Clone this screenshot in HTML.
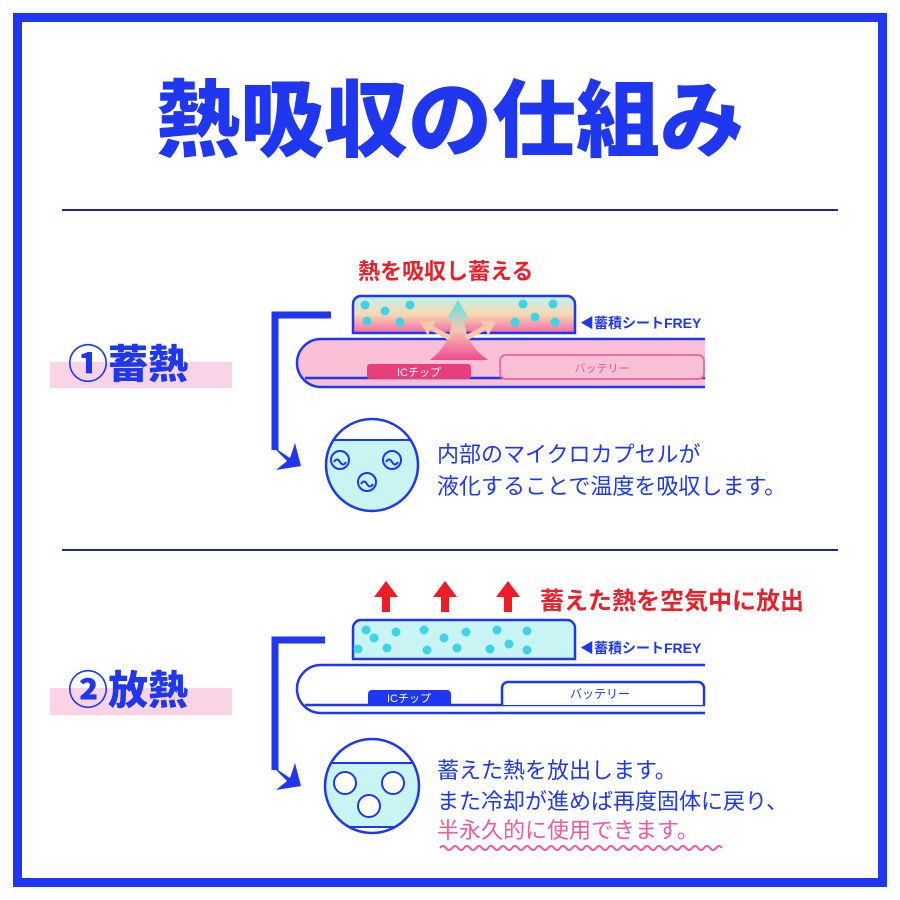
<!DOCTYPE html>
<html><head><meta charset="utf-8">
<style>
html,body{margin:0;padding:0;background:#fff;}
svg{display:block;}
text{font-family:"Liberation Sans","Noto Sans CJK JP",sans-serif;}
</style></head><body>
<svg width="900" height="900" viewBox="0 0 900 900" xmlns="http://www.w3.org/2000/svg">
<defs>
<linearGradient id="g1" x1="0" y1="0" x2="0" y2="1">
<stop offset="0" stop-color="#bdf3ee"/><stop offset="0.5" stop-color="#f9d8b0"/><stop offset="1" stop-color="#f46aa6"/>
</linearGradient>
<linearGradient id="g2" x1="0" y1="0" x2="0" y2="1">
<stop offset="0" stop-color="#53e6e6"/><stop offset="0.5" stop-color="#f4c8b0"/><stop offset="1" stop-color="#f04a90"/>
</linearGradient>
<clipPath id="c1"><circle cx="372" cy="465" r="46"/></clipPath>
<clipPath id="c2"><circle cx="372" cy="786" r="47"/></clipPath>
</defs>
<rect x="17.5" y="17.5" width="865" height="865" fill="none" stroke="#1f37f0" stroke-width="9"/>
<text x="450" y="150" font-size="84" font-weight="900" fill="#1f37f0" text-anchor="middle" font-family="Noto Sans CJK JP,sans-serif">熱吸収の仕組み</text>
<line x1="62" y1="210" x2="838" y2="210" stroke="#1a2a9a" stroke-width="2"/>
<line x1="62" y1="550" x2="838" y2="550" stroke="#1a2a9a" stroke-width="2"/>

<!-- section 1 -->
<rect x="50" y="362" width="182" height="26" fill="#fbd3e7"/>
<text x="68" y="378" font-size="40" font-weight="900" fill="#1f37f0" font-family="Noto Sans CJK JP,sans-serif">①蓄熱</text>
<text x="358" y="279" font-size="22" font-weight="700" fill="#e8202a" font-family="Noto Sans CJK JP,sans-serif">熱を吸収し蓄える</text>
<path d="M353 333 V304 a8 8 0 0 1 8 -8 H567 a8 8 0 0 1 8 8 V333 Z" fill="url(#g1)" stroke="#1f37f0" stroke-width="2.5"/>
<g fill="#3ed3e6">
<circle cx="365" cy="305" r="4.5"/><circle cx="385" cy="311" r="4.5"/><circle cx="410" cy="305" r="4.5"/><circle cx="367" cy="321" r="4.5"/><circle cx="400" cy="322" r="4.5"/>
<circle cx="523" cy="304" r="4.5"/><circle cx="553" cy="304" r="4.5"/><circle cx="535" cy="317" r="4.5"/><circle cx="515" cy="322" r="4.5"/><circle cx="555" cy="322" r="4.5"/>
</g>
<path d="M297 363 a24 24 0 0 1 24 -24 H705 V387 H321 a24 24 0 0 1 -24 -24 Z" fill="#f9c0d6"/>
<path d="M705 339 H321 a24 24 0 0 0 0 48 H705" fill="none" stroke="#1f37f0" stroke-width="2.5"/>
<line x1="305" y1="378" x2="705" y2="378" stroke="#1f37f0" stroke-width="2.5"/>
<path d="M430 360 Q450 345 452 320 L446 320 L458 300 L470 320 L464 320 Q466 345 488 360 Z" fill="url(#g2)"/>
<path d="M448 340 L430 330 L428 336 L420 322 L436 320 L433 326 L452 336 Z" fill="#f6c8a8"/>
<path d="M468 340 L486 330 L488 336 L496 322 L480 320 L483 326 L464 336 Z" fill="#f6c8a8"/>
<rect x="367" y="364" width="104" height="15" rx="3" fill="#e83e7c"/>
<text x="419" y="376" font-size="11" fill="#fff" text-anchor="middle" font-family="Noto Sans CJK JP,sans-serif">ICチップ</text>
<rect x="500" y="355" width="204" height="24" rx="6" fill="#f9c0d6" stroke="#e870a8" stroke-width="2"/>
<text x="602" y="372" font-size="11" fill="#e05a98" text-anchor="middle" font-family="Noto Sans CJK JP,sans-serif">バッテリー</text>
<text x="580" y="328" font-size="14" font-weight="700" fill="#1f37f0" font-family="Noto Sans CJK JP,sans-serif">◀蓄積シートFREY</text>
<path d="M331 315 H275 V450" fill="none" stroke="#1f37f0" stroke-width="7"/>
<path d="M272 446 L290 458 L295 443 L301 466 L276 470 L287 461 Z" fill="#1f37f0"/>
<g clip-path="url(#c1)">
<rect x="320" y="440" width="110" height="80" fill="#c8f4f4"/>
<line x1="320" y1="440" x2="430" y2="440" stroke="#1f37f0" stroke-width="2"/>
</g>
<circle cx="372" cy="465" r="46" fill="none" stroke="#1f37f0" stroke-width="2.5"/>
<g fill="none" stroke="#1f37f0" stroke-width="2">
<circle cx="340" cy="460" r="9"/><circle cx="392" cy="460" r="9"/><circle cx="367" cy="482" r="9"/>
<path d="M334 462 q3 -5 6 0 q3 5 6 0"/><path d="M386 462 q3 -5 6 0 q3 5 6 0"/><path d="M361 484 q3 -5 6 0 q3 5 6 0"/>
</g>
<text x="437" y="462" font-size="22" fill="#1f37f0" font-family="Noto Sans CJK JP,sans-serif">内部のマイクロカプセルが</text>
<text x="437" y="494" font-size="22" fill="#1f37f0" font-family="Noto Sans CJK JP,sans-serif">液化することで温度を吸収します。</text>

<!-- section 2 -->
<rect x="50" y="688" width="182" height="27" fill="#fbd3e7"/>
<text x="68" y="704" font-size="40" font-weight="900" fill="#1f37f0" font-family="Noto Sans CJK JP,sans-serif">②放熱</text>
<g fill="#ee1c24">
<path d="M374 597 L386 581 L398 597 L390 597 L390 612 L382 612 L382 597 Z"/>
<path d="M433 597 L445 581 L457 597 L449 597 L449 612 L441 612 L441 597 Z"/>
<path d="M496 597 L508 581 L520 597 L512 597 L512 612 L504 612 L504 597 Z"/>
</g>
<text x="540" y="609" font-size="24" font-weight="700" fill="#e8202a" font-family="Noto Sans CJK JP,sans-serif">蓄えた熱を空気中に放出</text>
<path d="M353 659 V628 a8 8 0 0 1 8 -8 H567 a8 8 0 0 1 8 8 V659 Z" fill="#c8f4f4" stroke="#1f37f0" stroke-width="2.5"/>
<g fill="#3ed3e6">
<circle cx="366" cy="630" r="4.5"/><circle cx="374" cy="638" r="4.5"/><circle cx="396" cy="632" r="4.5"/><circle cx="358" cy="649" r="4.5"/><circle cx="387" cy="648" r="4.5"/>
<circle cx="424" cy="630" r="4.5"/><circle cx="444" cy="638" r="4.5"/><circle cx="466" cy="632" r="4.5"/><circle cx="427" cy="650" r="4.5"/><circle cx="457" cy="648" r="4.5"/>
<circle cx="497" cy="630" r="4.5"/><circle cx="527" cy="631" r="4.5"/><circle cx="509" cy="644" r="4.5"/><circle cx="490" cy="649" r="4.5"/><circle cx="527" cy="650" r="4.5"/>
</g>
<path d="M705 665 H321 a24 24 0 0 0 0 48 H705" fill="none" stroke="#1f37f0" stroke-width="2.5"/>
<line x1="305" y1="705" x2="705" y2="705" stroke="#1f37f0" stroke-width="2.5"/>
<path d="M368 705 V694 a4 4 0 0 1 4 -4 H447 a4 4 0 0 1 4 4 V705 Z" fill="#1f37f0"/>
<text x="409" y="702" font-size="11" fill="#fff" text-anchor="middle" font-family="Noto Sans CJK JP,sans-serif">ICチップ</text>
<path d="M502 705 V688 a6 6 0 0 1 6 -6 H698 a6 6 0 0 1 6 6 V705" fill="#fff" stroke="#1f37f0" stroke-width="2.5"/>
<text x="600" y="698" font-size="12" fill="#1f37f0" text-anchor="middle" font-family="Noto Sans CJK JP,sans-serif">バッテリー</text>
<text x="580" y="653" font-size="14" font-weight="700" fill="#1f37f0" font-family="Noto Sans CJK JP,sans-serif">◀蓄積シートFREY</text>
<path d="M325 640 H275 V770" fill="none" stroke="#1f37f0" stroke-width="7"/>
<path d="M272 766 L290 778 L295 763 L301 786 L276 790 L287 781 Z" fill="#1f37f0"/>
<g clip-path="url(#c2)">
<rect x="320" y="763" width="110" height="64" fill="#c8f4f4"/>
<line x1="320" y1="763" x2="430" y2="763" stroke="#1f37f0" stroke-width="2"/>
<line x1="320" y1="827" x2="430" y2="827" stroke="#1f37f0" stroke-width="2"/>
</g>
<circle cx="372" cy="786" r="47" fill="none" stroke="#1f37f0" stroke-width="2.5"/>
<g fill="#fff" stroke="#1f37f0" stroke-width="2">
<circle cx="345" cy="783" r="11"/><circle cx="393" cy="783" r="11"/><circle cx="369" cy="806" r="11"/>
</g>
<text x="437" y="778" font-size="22" fill="#1f37f0" font-family="Noto Sans CJK JP,sans-serif">蓄えた熱を放出します。</text>
<text x="437" y="809" font-size="22" fill="#1f37f0" font-family="Noto Sans CJK JP,sans-serif">また冷却が進めば再度固体に戻り、</text>
<text x="437" y="838" font-size="22" fill="#ee5aa0" font-family="Noto Sans CJK JP,sans-serif">半永久的に使用できます。</text>
<path d="M440 848 q3 -4 6 0 q3 4 6 0 q3 -4 6 0 q3 4 6 0 q3 -4 6 0 q3 4 6 0 q3 -4 6 0 q3 4 6 0 q3 -4 6 0 q3 4 6 0 q3 -4 6 0 q3 4 6 0 q3 -4 6 0 q3 4 6 0 q3 -4 6 0 q3 4 6 0 q3 -4 6 0 q3 4 6 0 q3 -4 6 0 q3 4 6 0 q3 -4 6 0 q3 4 6 0 q3 -4 6 0 q3 4 6 0 q3 -4 6 0 q3 4 6 0 q3 -4 6 0 q3 4 6 0 q3 -4 6 0 q3 4 6 0 q3 -4 6 0 q3 4 6 0 q3 -4 6 0 q3 4 6 0 q3 -4 6 0 q3 4 6 0 q3 -4 6 0 q3 4 6 0 q3 -4 6 0 q3 4 6 0 q3 -4 6 0 q3 4 6 0 q3 -4 6 0 q3 4 6 0 q3 -4 6 0 q3 4 6 0 q3 -4 6 0" fill="none" stroke="#ee5aa0" stroke-width="2"/>
</svg>
</body></html>
